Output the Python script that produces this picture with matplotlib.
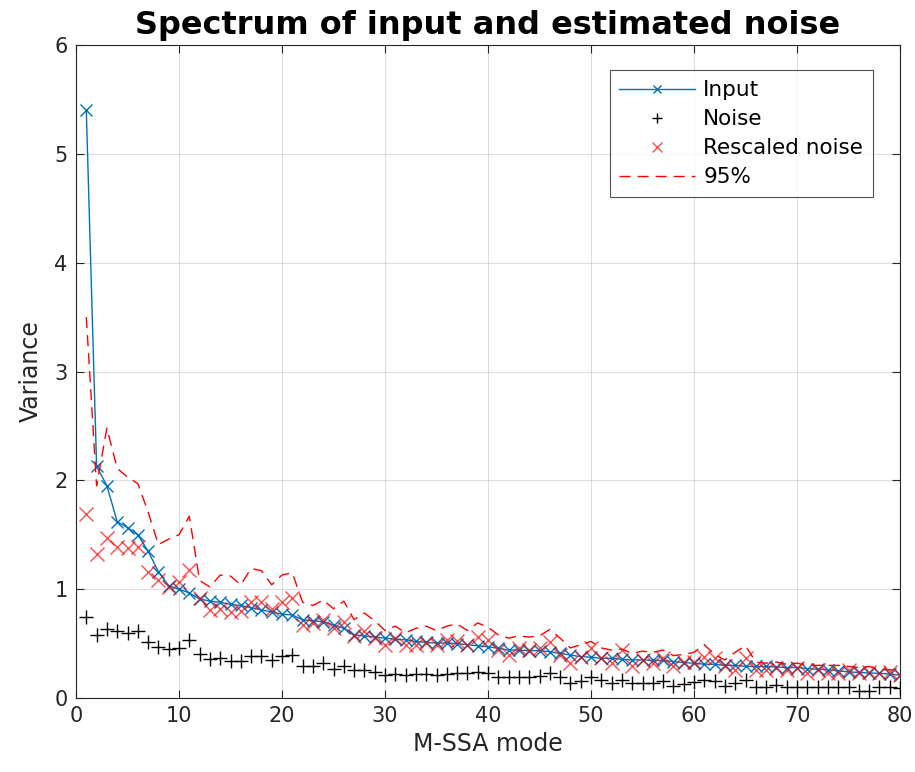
import numpy as np
import matplotlib
matplotlib.use("Agg")
import matplotlib.pyplot as plt

modes = list(range(1, 81))

input_var = [5.40, 2.13, 1.95, 1.62, 1.565, 1.50, 1.35, 1.16, 1.03, 1.00,
             0.965, 0.91, 0.89, 0.88, 0.86, 0.85, 0.83, 0.81, 0.79, 0.77,
             0.763, 0.717, 0.71, 0.70, 0.67, 0.64, 0.58, 0.57, 0.56, 0.55,
             0.54, 0.535, 0.52, 0.51, 0.505, 0.505, 0.50, 0.49, 0.48, 0.47,
             0.457, 0.44, 0.44, 0.435, 0.435, 0.425, 0.41, 0.395, 0.38, 0.375,
             0.365, 0.365, 0.355, 0.35, 0.35, 0.345, 0.345, 0.335, 0.325, 0.32,
             0.31, 0.31, 0.30, 0.30, 0.29, 0.29, 0.29, 0.285, 0.28, 0.28,
             0.27, 0.264, 0.26, 0.25, 0.24, 0.235, 0.23, 0.227, 0.22, 0.21]

noise_var = [0.74, 0.58, 0.634, 0.615, 0.595, 0.615, 0.51, 0.47, 0.45, 0.46,
             0.53, 0.40, 0.355, 0.37, 0.34, 0.34, 0.385, 0.385, 0.35, 0.385,
             0.395, 0.294, 0.294, 0.32, 0.27, 0.294, 0.257, 0.26, 0.24, 0.21,
             0.22, 0.21, 0.22, 0.22, 0.21, 0.22, 0.228, 0.228, 0.24, 0.228,
             0.196, 0.19, 0.19, 0.196, 0.202, 0.227, 0.19, 0.14, 0.16, 0.19,
             0.166, 0.14, 0.166, 0.135, 0.135, 0.14, 0.16, 0.11, 0.13, 0.15,
             0.166, 0.16, 0.11, 0.135, 0.166, 0.104, 0.104, 0.12, 0.098, 0.104,
             0.104, 0.104, 0.104, 0.104, 0.098, 0.068, 0.068, 0.104, 0.098, 0.09]

rescaled_var = [1.69, 1.32, 1.47, 1.39, 1.375, 1.39, 1.16, 1.085, 1.02, 1.07,
                1.18, 0.92, 0.81, 0.82, 0.79, 0.80, 0.885, 0.885, 0.82, 0.885,
                0.92, 0.67, 0.685, 0.72, 0.64, 0.70, 0.57, 0.62, 0.55, 0.49,
                0.55, 0.49, 0.49, 0.505, 0.49, 0.535, 0.52, 0.49, 0.565, 0.53,
                0.44, 0.395, 0.457, 0.44, 0.457, 0.517, 0.395, 0.32, 0.38, 0.457,
                0.365, 0.32, 0.44, 0.29, 0.35, 0.32, 0.365, 0.29, 0.335, 0.33,
                0.38, 0.365, 0.29, 0.26, 0.365, 0.26, 0.26, 0.274, 0.26, 0.274,
                0.227, 0.26, 0.227, 0.227, 0.26, 0.227, 0.24, 0.227, 0.24, 0.21]

p95 = [3.50, 1.95, 2.48, 2.11, 2.03, 1.97, 1.71, 1.41, 1.46, 1.50,
       1.67, 1.08, 1.02, 1.13, 1.12, 1.04, 1.19, 1.17, 1.04, 1.13,
       1.15, 0.88, 0.85, 0.90, 0.82, 0.89, 0.72, 0.78, 0.71, 0.62,
       0.66, 0.60, 0.64, 0.66, 0.62, 0.66, 0.68, 0.62, 0.69, 0.65,
       0.58, 0.55, 0.57, 0.56, 0.57, 0.63, 0.55, 0.46, 0.49, 0.52,
       0.46, 0.44, 0.45, 0.41, 0.43, 0.42, 0.44, 0.39, 0.40, 0.42,
       0.49, 0.40, 0.35, 0.42, 0.48, 0.33, 0.32, 0.33, 0.31, 0.32,
       0.30, 0.30, 0.30, 0.30, 0.29, 0.28, 0.29, 0.26, 0.26, 0.25]

xticks = [0, 10, 20, 30, 40, 50, 60, 70, 80]
yticks = [0, 1, 2, 3, 4, 5, 6]

fig = plt.figure(figsize=(9.15, 7.72), dpi=100)
ax = fig.add_axes([76/915, 74/772, 824/915, 653/772])

blue = '#0072BD'
ax.plot(modes, input_var, '-', color=blue, marker='x', markersize=8.5,
        markeredgewidth=1.0, linewidth=1.0, label='Input', zorder=3)
ax.plot(modes, noise_var, linestyle='none', color='black', marker='+',
        markersize=10, markeredgewidth=1.0, label='Noise', zorder=3)
ax.plot(modes, rescaled_var, linestyle='none', color=(1, 0, 0, 0.7), marker='x',
        markersize=9.5, markeredgewidth=1.0, label='Rescaled noise', zorder=3)
ax.plot(modes, p95, linestyle=(0, (8, 5)), color='red', linewidth=1.0,
        label='95%', zorder=3)

ax.set_xlim(0, 80)
ax.set_ylim(0, 6)
ax.set_xticks(xticks)
ax.set_yticks(yticks)
ax.grid(True, color='#262626', alpha=0.15, linewidth=0.8)
ax.set_axisbelow(True)
ax.tick_params(direction='in', length=6, width=0.8, colors='#262626',
               labelsize=15, top=True, right=True, pad=6)
for s in ax.spines.values():
    s.set_color('#262626')
    s.set_linewidth(0.8)

ax.set_xlabel('M-SSA mode', fontsize=17, color='#262626', labelpad=4)
ax.set_ylabel('Variance', fontsize=17, color='#262626', labelpad=8)
ax.set_title('Spectrum of input and estimated noise', fontsize=23,
             fontweight='bold', pad=8)

leg = ax.legend(loc='upper right', bbox_to_anchor=(0.967, 0.961), fontsize=15.5,
                frameon=True, fancybox=False, edgecolor='#262626',
                handlelength=3.5, borderpad=0.45, labelspacing=0.42,
                handletextpad=0.4, borderaxespad=0, markerscale=0.7)
leg.get_frame().set_linewidth(0.8)

fig.savefig('out.png', dpi=100)
